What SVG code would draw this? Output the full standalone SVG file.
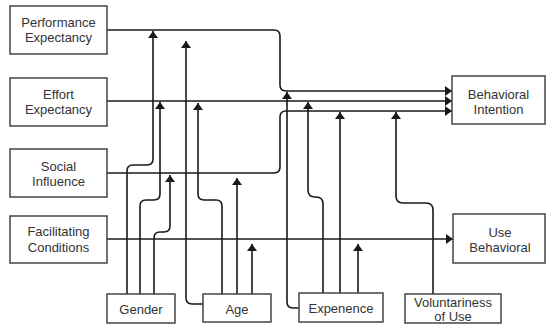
<svg xmlns="http://www.w3.org/2000/svg" width="546" height="327" viewBox="0 0 546 327">
<style>
.box{fill:#fff;stroke:#444;stroke-width:1.5}
.t{font-family:"Liberation Sans",Arial,sans-serif;font-size:13px;fill:#333;text-anchor:middle}
.c{fill:none;stroke:#1a1a1a;stroke-width:1.6}
.a{marker-end:url(#ah)}
</style>
<defs>
<marker id="ah" viewBox="0 0 7 10" refX="7" refY="5" markerWidth="7" markerHeight="10" orient="auto" markerUnits="userSpaceOnUse">
<path d="M0,0 L7,5 L0,10 z" fill="#1a1a1a"/>
</marker>
</defs>
<rect width="546" height="327" fill="#fff"/>
<g id="connectors">
<path class="c a" d="M107,30 H274 Q280,30 280,36 V85 Q280,91 286,91 H452"/>
<path class="c a" d="M107,101 H452"/>
<path class="c a" d="M107,173 H274 Q280,173 280,167 V117 Q280,111 286,111 H452"/>
<path class="c a" d="M107,239 H453"/>
<path class="c a" d="M127,294 V171 Q127,165 133,165 H147 Q153,165 153,159 V31"/>
<path class="c a" d="M140,294 V206 Q140,200 146,200 H154 Q160,200 160,194 V102"/>
<path class="c a" d="M154,294 V238 Q154,232 160,232 H164 Q170,232 170,226 V175"/>
<path class="c a" d="M203,304 H192 Q186,304 186,298 V41"/>
<path class="c a" d="M222,294 V206 Q222,200 216,200 H204 Q198,200 198,194 V103"/>
<path class="c a" d="M237,294 V178"/>
<path class="c a" d="M252,294 V244"/>
<path class="c a" d="M299,308 H293 Q287,308 287,302 V92"/>
<path class="c a" d="M323,293 V204 Q323,197 316,197 H315 Q308,197 308,190 V102"/>
<path class="c a" d="M340,293 V112"/>
<path class="c a" d="M358,293 V244"/>
<path class="c a" d="M433,294 V210 Q433,203 426,203 H403 Q396,203 396,196 V112"/>
</g>
<g id="pe"><rect class="box" x="10" y="6" width="97" height="48"/><text class="t" x="58.5" y="27">Performance</text><text class="t" x="58.5" y="42">Expectancy</text></g>
<g id="ee"><rect class="box" x="10" y="78" width="97" height="48"/><text class="t" x="58.5" y="99">Effort</text><text class="t" x="58.5" y="114">Expectancy</text></g>
<g id="si"><rect class="box" x="10" y="149" width="97" height="48"/><text class="t" x="58.5" y="171">Social</text><text class="t" x="58.5" y="186">Influence</text></g>
<g id="fc"><rect class="box" x="10" y="216" width="97" height="47"/><text class="t" x="58.5" y="236">Facilitating</text><text class="t" x="58.5" y="252">Conditions</text></g>
<g id="bi"><rect class="box" x="452" y="76" width="93" height="48"/><text class="t" x="498.5" y="99">Behavioral</text><text class="t" x="498.5" y="114">Intention</text></g>
<g id="ub"><rect class="box" x="453" y="214" width="92" height="49"/><text class="t" x="500" y="237">Use</text><text class="t" x="500" y="252">Behavioral</text></g>
<g id="gender"><rect class="box" x="107" y="294" width="68" height="29"/><text class="t" x="141" y="314">Gender</text></g>
<g id="age"><rect class="box" x="203" y="294" width="68" height="28"/><text class="t" x="237" y="314">Age</text></g>
<g id="experience"><rect class="box" x="299" y="293" width="84" height="29"/><text class="t" x="341" y="313">Expenence</text></g>
<g id="voluntariness"><rect class="box" x="405" y="294" width="96" height="29"/><text class="t" x="453" y="307">Voluntariness</text><text class="t" x="453" y="321">of Use</text></g>
</svg>
